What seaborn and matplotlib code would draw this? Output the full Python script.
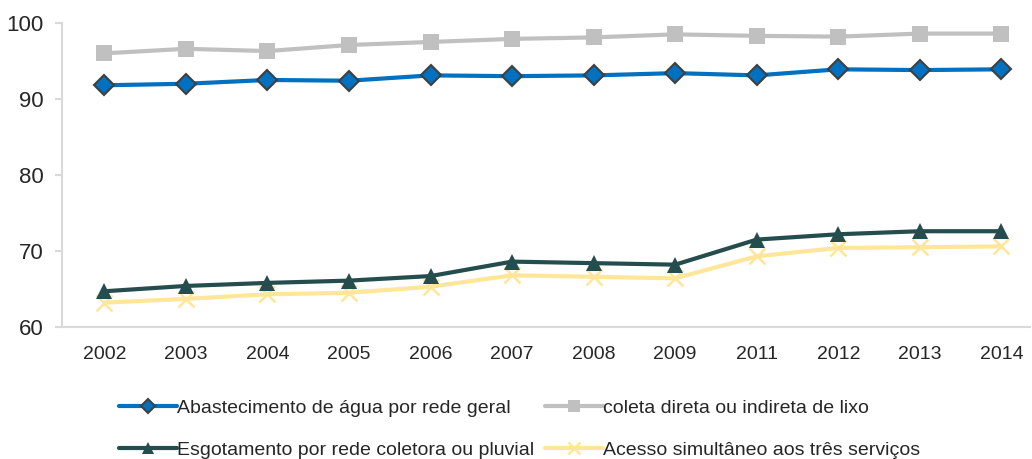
import pandas as pd
import numpy as np
import seaborn as sns
from matplotlib import pyplot as plt

# dados
anos = ['2002', '2003', '2004', '2005', '2006', '2007', '2008', '2009',
        '2011', '2012', '2013', '2014']
agua = [91.8, 92.0, 92.5, 92.4, 93.1, 93.0, 93.1, 93.4, 93.1, 93.9, 93.8, 93.9]
lixo = [96.0, 96.6, 96.3, 97.1, 97.5, 97.9, 98.1, 98.5, 98.3, 98.2, 98.6, 98.6]
esgoto = [64.7, 65.4, 65.8, 66.1, 66.7, 68.6, 68.4, 68.2, 71.5, 72.2, 72.6, 72.6]
acesso = [63.2, 63.7, 64.3, 64.5, 65.3, 66.8, 66.6, 66.4, 69.3, 70.4, 70.5, 70.6]

nomes = ['Abastecimento de água por rede geral',
         'coleta direta ou indireta de lixo',
         'Esgotamento por rede coletora ou pluvial',
         'Acesso simultâneo aos três serviços']

sns.set_theme(style='white')
plt.rcParams['font.family'] = ['Liberation Sans', 'DejaVu Sans']

fig = plt.figure(figsize=(10.32, 4.59), dpi=100)
ax = fig.add_axes([0.060, 0.2876, 0.938, 0.6624])

estilos = {
    nomes[0]: dict(color='#0070C0', marker='D', markersize=10, markeredgecolor='#404040', markeredgewidth=1.5, zorder=3),
    nomes[1]: dict(color='#C0C0C0', marker='s', markersize=12, markeredgecolor='#C0C0C0', markeredgewidth=0, zorder=3),
    nomes[3]: dict(color='#FFE699', marker='x', markersize=12, markeredgecolor='#FFE699', markeredgewidth=1.8, zorder=2),
    nomes[2]: dict(color='#264D4D', marker='^', markersize=11, markeredgecolor='#264D4D', markeredgewidth=0, zorder=3),
}
valores = {nomes[0]: agua, nomes[1]: lixo, nomes[2]: esgoto, nomes[3]: acesso}

linhas = {}
for nome, st in estilos.items():
    df = pd.DataFrame({'ano': anos, 'valor': valores[nome]})
    sns.lineplot(data=df, x='ano', y='valor', ax=ax, linewidth=3, label=nome, sort=False, **st)
    linhas[nome] = ax.lines[-1]

ax.set_ylim(60, 100)
ax.set_xlim(-0.52, 11.35)
ax.set_yticks([60, 70, 80, 90, 100])
ax.set_xlabel('')
ax.set_ylabel('')
for s in ['top', 'right']:
    ax.spines[s].set_visible(False)
for s in ['left', 'bottom']:
    ax.spines[s].set_color('#D9D9D9')
    ax.spines[s].set_linewidth(1.5)
ax.tick_params(axis='y', left=True, length=5, color='#D9D9D9', width=1.5, labelsize=16, pad=8)
ax.tick_params(axis='x', bottom=False, labelsize=14, pad=8)

ax.get_legend().remove()
ordem = [nomes[0], nomes[2], nomes[1], nomes[3]]
fig.legend([linhas[n] for n in ordem], ordem, ncol=2, loc='lower left',
           bbox_to_anchor=(0.098, -0.038), frameon=False, fontsize=14,
           handlelength=3.0, handletextpad=0.0, columnspacing=0.55,
           labelspacing=1.25, markerscale=0.75)

plt.savefig('out.png', dpi=100)
